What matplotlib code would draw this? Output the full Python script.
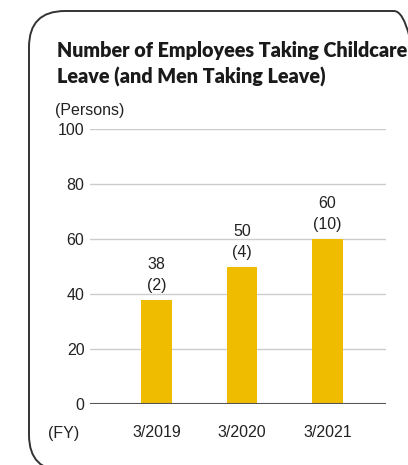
import matplotlib
matplotlib.use("Agg")
import matplotlib.pyplot as plt
from matplotlib.patches import FancyBboxPatch

categories = ["3/2019", "3/2020", "3/2021"]
totals = [38, 50, 60]
men = [2, 4, 10]
yticks = [0, 20, 40, 60, 80, 100]

W, H = 408, 465
fig = plt.figure(figsize=(W / 100, H / 100), dpi=100)
fig.patch.set_facecolor("white")

# rounded frame, in inches (1 inch = 100 px)
box = FancyBboxPatch((0.29, (H - 471) / 100), 4.30 - 0.29, (471 - 11) / 100,
                     boxstyle="round,pad=0,rounding_size=0.36",
                     transform=fig.dpi_scale_trans,
                     fill=False, edgecolor="#333333", linewidth=1.4)
fig.patches.append(box)

tfont = "Lato"
fig.text(57 / W, 1 - 50 / H, "Number of Employees Taking Childcare",
         fontfamily=tfont, fontweight="heavy", fontsize=14.2, color="#1a1a1a",
         va="center", ha="left")
fig.text(57 / W, 1 - 77 / H, "Leave (and Men Taking Leave)",
         fontfamily=tfont, fontweight="heavy", fontsize=14.2, color="#1a1a1a",
         va="center", ha="left")

tf = "Liberation Sans"
fs = 11.5
ax = fig.add_axes([90 / W, 1 - 404 / H, (386 - 90) / W, (404 - 129) / H])
x = list(range(len(categories)))
ax.bar(x, totals, width=0.36, color="#F0BC00", zorder=3)
ax.set_xlim(-0.778, 2.684)
ax.set_ylim(0, 100)
ax.set_yticks(yticks)
ax.set_yticklabels([str(v) for v in yticks], fontfamily=tf, fontsize=fs, color="#222222")
ax.set_xticks(x)
ax.set_xticklabels(categories, fontfamily=tf, fontsize=fs, color="#222222")
ax.tick_params(axis="y", length=0, pad=4)
ax.tick_params(axis="x", length=0, pad=15)
ax.patch.set_alpha(0)
for s in ax.spines.values():
    s.set_visible(False)
for v in yticks[1:]:
    ax.axhline(v, color="#cccccc", linewidth=1.0, zorder=1)
ax.axhline(0, color="#555555", linewidth=1.5, zorder=4)

for xi, t, m in zip(x, totals, men):
    ax.annotate(f"{t}\n({m})", (xi, t), xytext=(0, 5), textcoords="offset points",
                ha="center", va="bottom", fontfamily=tf, fontsize=fs,
                color="#222222", linespacing=1.5)

fig.text(55 / W, 1 - 110 / H, "(Persons)", fontfamily=tf, fontsize=fs,
         color="#222222", ha="left", va="center")
fig.text(48 / W, 1 - 433 / H, "(FY)", fontfamily=tf, fontsize=fs,
         color="#222222", ha="left", va="center")

fig.savefig("out.png", dpi=100)
